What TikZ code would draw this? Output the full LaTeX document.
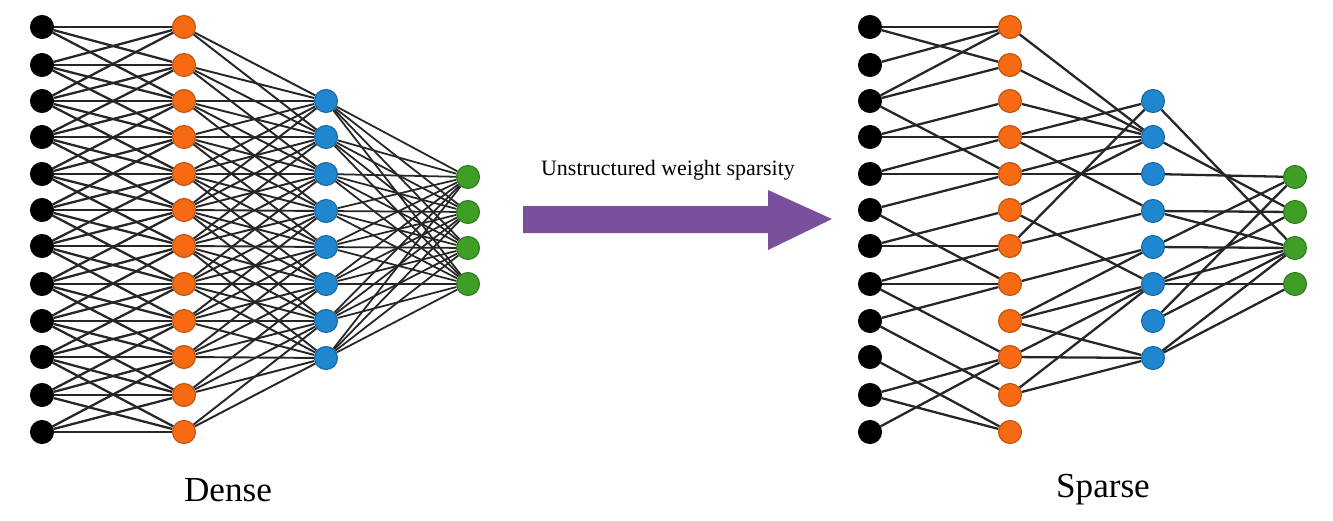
\documentclass[tikz,border=0pt]{standalone}
\usepackage{fontspec}
\setmainfont{Liberation Serif}
\usetikzlibrary{backgrounds}
\begin{document}
\begin{tikzpicture}[x=0.02cm,y=-0.02cm,
  nd/.style={circle,inner sep=0pt,minimum size=0.46cm,draw=#1!75!black,line width=0.6pt,fill=#1},
  ed/.style={line width=1.3pt,black!85},
  lab/.style={font=\fontsize{20}{24}\selectfont}]
\useasboundingbox (0,0) rectangle (1333,521);
\definecolor{ora}{HTML}{F56A12}\definecolor{blu}{HTML}{1F86D0}\definecolor{gre}{HTML}{3E9E26}\definecolor{pur}{HTML}{7A4F9B}\definecolor{blk}{HTML}{000000}
\def\ylist{27,65,101,137,174,210,246,284,321,357,395,432}
% nodes
\foreach \y [count=\i] in \ylist {
  \node[nd=blk] (di\i) at (42,\y) {}; \node[nd=ora] (do\i) at (184,\y) {};
  \node[nd=blk] (si\i) at (870,\y) {}; \node[nd=ora] (so\i) at (1010,\y) {};}
\foreach \y [count=\i] in {101,137,174,211,247,284,321,358} {
  \node[nd=blu] (db\i) at (326,\y) {}; \node[nd=blu] (sb\i) at (1153,\y) {};}
\foreach \y [count=\i] in {177,212,248,284} {
  \node[nd=gre] (dg\i) at (468,\y) {}; \node[nd=gre] (sg\i) at (1295,\y) {};}
\begin{scope}[on background layer]
% Dense edges
\foreach \i in {1,...,12} {\foreach \j in {1,...,12} {
  \pgfmathtruncatemacro\d{abs(\i-\j)}
  \ifnum\d<3 \draw[ed] (di\i) -- (do\j);\fi}}
\foreach \i in {1,...,12} {\foreach \j in {1,...,8} {
  \pgfmathtruncatemacro\d{abs(\i-\j-2)}
  \ifnum\d<4 \draw[ed,line width=1.1pt] (do\i) -- (db\j);\fi}}
\foreach \i in {1,...,8} {\foreach \j in {1,...,4} {
  \draw[ed,line width=1pt] (db\i) -- (dg\j);}}
% Sparse edges
\foreach \p/\q in {i1/o1,i1/o2,i2/o1,i3/o1,i3/o2,i3/o5,i4/o3,i4/o4,i5/o4,i5/o5,i6/o5,i6/o8,i7/o7,i7/o6,i8/o7,i8/o8,i8/o10,i9/o8,i9/o11,i10/o12,i11/o10,i11/o12,i12/o10,
  o1/b2,o2/b2,o3/b2,o4/b1,o4/b2,o4/b4,o5/b2,o5/b3,o6/b2,o6/b6,o7/b4,o7/b1,o8/b5,o9/b5,o9/b6,o9/b8,o10/b6,o10/b8,o11/b6,o11/b8,
  b1/g3,b2/g2,b3/g1,b4/g2,b4/g3,b5/g3,b5/g1,b6/g3,b6/g4,b6/g2,b7/g3,b7/g1,b8/g4,b8/g3}
  \draw[ed] (s\p) -- (s\q);
\end{scope}
% arrow
\fill[pur] (523,206) -- (768,206) -- (768,190) -- (832,219) -- (768,250) -- (768,233) -- (523,233) -- cycle;
\node[font=\fontsize{12.5}{15}\selectfont] (t) at (668,170) {Unstructured weight sparsity};
\node[lab] (dn) at (228,490) {Dense};
\node[lab] (sp) at (1103,490) {Sparse};
\end{tikzpicture}
\end{document}
